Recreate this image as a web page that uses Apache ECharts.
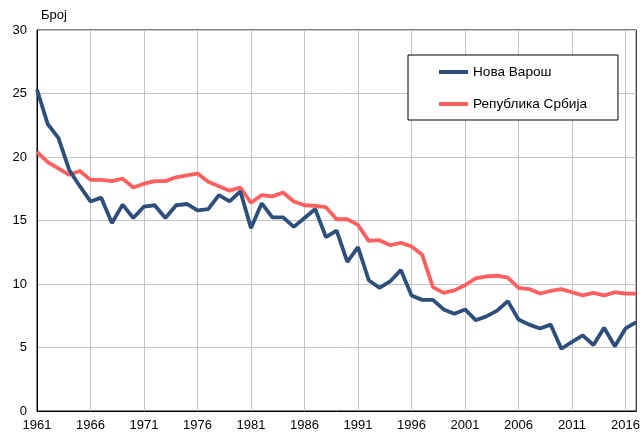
<!DOCTYPE html>
<html><head><meta charset="utf-8">
<script src="https://cdn.jsdelivr.net/npm/echarts@6/dist/echarts.min.js"></script>
<style>html,body{margin:0;padding:0;background:#fff}#c{width:643px;height:434px}</style>
</head><body><div id="c"></div>
<script>
const years = [];
for (let y = 1961; y <= 2017; y++) years.push(String(y));
const novaVarosh = [25.3,22.6,21.5,19.0,17.7,16.5,16.8,14.8,16.25,15.2,16.1,16.2,15.2,16.2,16.3,
  15.8,15.9,17.0,16.5,17.3,14.4,16.35,15.25,15.25,14.5,15.2,15.9,13.7,14.2,
  11.75,12.9,10.3,9.7,10.2,11.1,9.1,8.75,8.75,8.0,7.65,8.0,7.15,7.45,
  7.9,8.65,7.2,6.8,6.5,6.8,4.9,5.45,5.95,5.2,6.55,5.1,6.5,7.0];
const srbija = [20.4,19.6,19.1,18.6,18.9,18.2,18.2,18.1,18.3,17.6,17.9,18.1,18.1,18.4,18.55,
  18.7,18.05,17.7,17.35,17.6,16.4,17.0,16.9,17.2,16.5,16.2,16.15,16.05,15.1,
  15.1,14.65,13.4,13.45,13.05,13.25,12.95,12.3,9.75,9.3,9.5,9.9,10.45,10.6,
  10.65,10.5,9.7,9.6,9.25,9.45,9.6,9.35,9.1,9.3,9.1,9.35,9.25,9.25];
const seriesNames = ['Нова Варош', 'Република Србија'];
const yTicks = [0, 5, 10, 15, 20, 25, 30];
const font = 'Liberation Sans, Arial, sans-serif';

const chart = echarts.init(document.getElementById('c'), null, {renderer: 'canvas'});
chart.setOption({
  animation: false,
  backgroundColor: '#fff',
  title: {text: 'Број', left: 36, top: 4,
    textStyle: {fontFamily: font, fontSize: 13, fontWeight: 'normal', color: '#000'}},
  grid: {left: 37, right: 5, top: 30, bottom: 23, show: true, borderColor: '#000', borderWidth: 1, containLabel: false},
  legend: {
    data: seriesNames, orient: 'vertical', left: 408, top: 55,
    backgroundColor: '#fff', borderColor: '#000', borderWidth: 1,
    padding: [10, 31, 9, 31], itemGap: 18, itemWidth: 29, itemHeight: 4,
    icon: 'rect',
    textStyle: {fontFamily: font, fontSize: 13.6, color: '#000'}
  },
  xAxis: {
    type: 'category', data: years, boundaryGap: false,
    axisLine: {lineStyle: {color: '#000'}}, axisTick: {show: false},
    axisLabel: {interval: 4, color: '#000', fontFamily: font, fontSize: 13, margin: 8},
    splitLine: {show: true, interval: 4, lineStyle: {color: '#c4c4c4', width: 1}}
  },
  yAxis: {
    type: 'value', min: 0, max: 30, interval: 5,
    axisLine: {show: true, lineStyle: {color: '#000'}}, axisTick: {show: false},
    axisLabel: {color: '#000', fontFamily: font, fontSize: 13, margin: 10,
      formatter: v => yTicks.includes(v) ? String(v) : ''},
    splitLine: {show: true, lineStyle: {color: '#c4c4c4', width: 1}}
  },
  series: [
    {name: seriesNames[0], type: 'line', data: novaVarosh, showSymbol: false, symbol: 'none',
      lineStyle: {color: '#2e4f7c', width: 3.8}, itemStyle: {color: '#2e4f7c'}, z: 3},
    {name: seriesNames[1], type: 'line', data: srbija, showSymbol: false, symbol: 'none',
      lineStyle: {color: '#ff5f5f', width: 3.8}, itemStyle: {color: '#ff5f5f'}, z: 2}
  ]
});
</script></body></html>
